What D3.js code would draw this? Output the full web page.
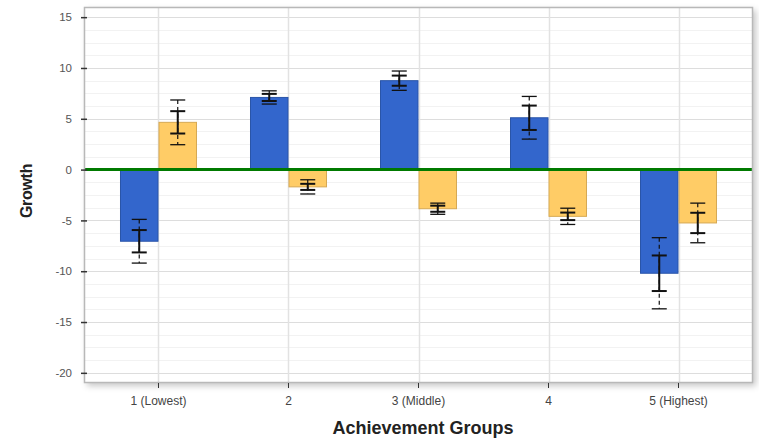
<!DOCTYPE html>
<html>
<head>
<meta charset="utf-8">
<script src="https://cdn.jsdelivr.net/npm/d3@7"></script>
<style>
  html, body { margin: 0; padding: 0; background: #fff; }
  svg { display: block; font-family: "Liberation Sans", Arial, sans-serif; }
</style>
</head>
<body>
<svg id="chart" width="759" height="444"></svg>
<script>
// Growth by achievement group, two series with two-level error bars
const categories = ["1 (Lowest)", "2", "3 (Middle)", "4", "5 (Highest)"];
const seriesNames = ["A", "B"];
const valuesA = [-7.05, 7.1, 8.75, 5.1, -10.2];
const valuesB = [4.65, -1.7, -3.85, -4.6, -5.25];
// inner (solid) and outer (dashed) half-widths of the error bars
const innerErrA = [1.1, 0.35, 0.5, 1.2, 1.75];
const outerErrA = [2.15, 0.65, 0.95, 2.1, 3.5];
const innerErrB = [1.1, 0.3, 0.3, 0.37, 1.0];
const outerErrB = [2.2, 0.7, 0.55, 0.8, 1.95];
const yTicks = [-20, -15, -10, -5, 0, 5, 10, 15];

const colors = { A: "#3366cc", B: "#ffcc66" };
const strokes = { A: "#2a55a8", B: "#d6a954" };

const margin = { left: 84, top: 7, right: 6, bottom: 61 };
const W = 759, H = 444;
const iw = W - margin.left - margin.right;
const ih = H - margin.top - margin.bottom;

const svg = d3.select("#chart");

const defs = svg.append("defs");
const f = defs.append("filter").attr("id", "shadow")
  .attr("x", "-5%").attr("y", "-5%").attr("width", "115%").attr("height", "115%");
f.append("feDropShadow").attr("dx", 3).attr("dy", 3).attr("stdDeviation", 3)
  .attr("flood-color", "#000").attr("flood-opacity", 0.22);

const g = svg.append("g").attr("transform", `translate(${margin.left},${margin.top})`);

const x0 = d3.scaleBand().domain(categories).range([0, iw]).paddingInner(0).paddingOuter(0.073);
const x1 = d3.scaleBand().domain(seriesNames).range([0, 77]);
const y = d3.scaleLinear().domain([-21, 16]).range([ih, 0]);

// plot frame with shadow
g.append("rect").attr("width", iw).attr("height", ih)
  .attr("fill", "#fff").attr("filter", "url(#shadow)");

// minor grid
const minor = d3.range(-21.25, 16, 1.25).filter(v => v > -21 && v < 16 && Math.abs(v % 5) > 0.01);
g.append("g").selectAll("line").data(minor).join("line")
  .attr("x1", 0).attr("x2", iw)
  .attr("y1", d => Math.round(y(d)) + 0.5).attr("y2", d => Math.round(y(d)) + 0.5)
  .attr("stroke", "#f2f2f2").attr("stroke-width", 1);

// major grid
g.append("g").selectAll("line").data(yTicks).join("line")
  .attr("x1", 0).attr("x2", iw)
  .attr("y1", d => Math.round(y(d)) + 0.5).attr("y2", d => Math.round(y(d)) + 0.5)
  .attr("stroke", "#dddddd").attr("stroke-width", 1.2);

// vertical grid at category centres
g.append("g").selectAll("line").data(categories).join("line")
  .attr("x1", d => Math.round(x0(d) + x0.bandwidth() / 2) + 0.5)
  .attr("x2", d => Math.round(x0(d) + x0.bandwidth() / 2) + 0.5)
  .attr("y1", 0).attr("y2", ih)
  .attr("stroke", "#e2e2e2").attr("stroke-width", 1.5);

// bars
const rows = categories.map((c, i) => [
  { cat: c, s: "A", v: valuesA[i], ei: innerErrA[i], eo: outerErrA[i] },
  { cat: c, s: "B", v: valuesB[i], ei: innerErrB[i], eo: outerErrB[i] }
]).flat();

const offset = (x0.bandwidth() - 77) / 2;
const bx = d => x0(d.cat) + offset + x1(d.s);

g.append("g").selectAll("rect").data(rows).join("rect")
  .attr("x", d => bx(d) + 0.5)
  .attr("width", x1.bandwidth() - 1)
  .attr("y", d => Math.min(y(d.v), y(0)))
  .attr("height", d => Math.abs(y(d.v) - y(0)))
  .attr("fill", d => colors[d.s])
  .attr("stroke", d => strokes[d.s]).attr("stroke-width", 1);

// zero line
g.append("line").attr("x1", 0).attr("x2", iw)
  .attr("y1", y(0)).attr("y2", y(0))
  .attr("stroke", "#007a00").attr("stroke-width", 3);

// error bars
const eb = g.append("g").selectAll("g").data(rows).join("g")
  .attr("transform", d => `translate(${bx(d) + x1.bandwidth() / 2},0)`);
const cap = 7.5;
// dashed outer extension
eb.append("line").attr("x1", 0).attr("x2", 0)
  .attr("y1", d => y(d.v + d.eo)).attr("y2", d => y(d.v - d.eo))
  .attr("stroke", "#111").attr("stroke-width", 1.2).attr("stroke-dasharray", "4,3");
// solid inner segment
eb.append("line").attr("x1", 0).attr("x2", 0)
  .attr("y1", d => y(d.v + d.ei)).attr("y2", d => y(d.v - d.ei))
  .attr("stroke", "#111").attr("stroke-width", 2);
// caps
eb.each(function (d) {
  const s = d3.select(this);
  [[d.v + d.eo, 1.3], [d.v - d.eo, 1.3], [d.v + d.ei, 2], [d.v - d.ei, 2]].forEach(([val, w]) => {
    s.append("line").attr("x1", -cap).attr("x2", cap)
      .attr("y1", y(val)).attr("y2", y(val))
      .attr("stroke", "#111").attr("stroke-width", w);
  });
});

// frame border
g.append("rect").attr("x", 0.5).attr("y", 0.5).attr("width", iw - 1).attr("height", ih - 1)
  .attr("fill", "none").attr("stroke", "#b8b8b8").attr("stroke-width", 1.5);

// y axis
const yAxis = g.append("g").call(
  d3.axisLeft(y).tickValues(yTicks).tickFormat(d => String(d))
    .tickSize(3).tickPadding(9).tickSizeOuter(0)
);
yAxis.select(".domain").remove();
yAxis.selectAll(".tick line").attr("x1", -3).attr("x2", 3).attr("stroke", "#333").attr("stroke-width", 1.5);
yAxis.selectAll(".tick text").attr("fill", "#555").attr("font-size", 11.5);

// x axis
const xAxis = g.append("g").attr("transform", `translate(0,${ih})`).call(
  d3.axisBottom(x0).tickSize(5).tickPadding(8).tickSizeOuter(0)
);
xAxis.select(".domain").remove();
xAxis.selectAll(".tick line").attr("stroke", "#333").attr("stroke-width", 1);
xAxis.selectAll(".tick text").attr("fill", "#444").attr("font-size", 12);

// axis titles
svg.append("text").attr("x", 423).attr("y", 434)
  .attr("text-anchor", "middle").attr("font-size", 18).attr("font-weight", "bold")
  .attr("fill", "#222").text("Achievement Groups");
svg.append("text").attr("transform", "translate(32,191) rotate(-90)")
  .attr("text-anchor", "middle").attr("font-size", 16).attr("font-weight", "bold")
  .attr("letter-spacing", -0.3)
  .attr("fill", "#222").text("Growth");
</script>
</body>
</html>
